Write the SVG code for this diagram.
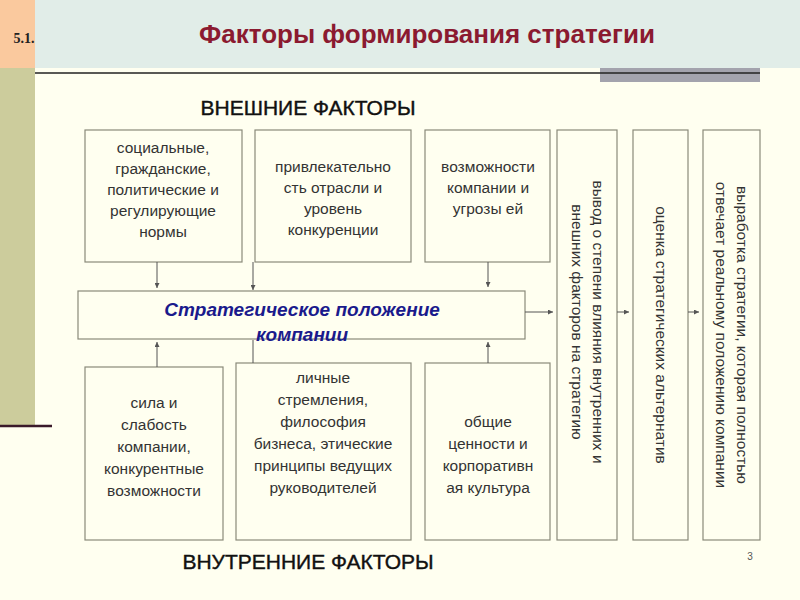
<svg xmlns="http://www.w3.org/2000/svg" width="800" height="600" viewBox="0 0 800 600">
<style>
.bx{fill:none;stroke:#8a8a7a;stroke-width:1.2}
.t{font-family:"Liberation Sans",Arial,sans-serif;font-size:15.5px;fill:#333;text-anchor:middle}
.h{font-family:"Liberation Sans",Arial,sans-serif;font-size:21px;fill:#111;text-anchor:middle;stroke:#111;stroke-width:0.4}
.s{font-family:"Liberation Sans",Arial,sans-serif;font-size:19px;font-style:italic;font-weight:bold;fill:#1a1a8c;text-anchor:middle}
.c line{stroke:#555;stroke-width:1}
</style>
<defs><marker id="a" viewBox="0 0 6 6" refX="6" refY="3" markerWidth="5" markerHeight="5" orient="auto"><path d="M0,0L6,3L0,6z" fill="#555"/></marker></defs>
<rect width="800" height="600" fill="#fffff0"/>
<rect x="35" y="0" width="765" height="68" fill="#e1ede8"/>
<rect x="0" y="0" width="35" height="68" fill="#fac99e"/>
<rect x="0" y="68" width="35" height="357" fill="#cccc9c"/>
<line x1="0" y1="426" x2="52" y2="426" stroke="#3a1a2a" stroke-width="2.5"/>
<rect x="600" y="68" width="160" height="14" fill="#a3a3ad"/>
<line x1="35" y1="73" x2="760" y2="73" stroke="#222" stroke-width="1.5"/>
<text x="24" y="43" style="font-family:'Liberation Serif',serif;font-size:14px;font-weight:bold;fill:#222" text-anchor="middle">5.1.</text>
<text x="427" y="43" style="font-family:'Liberation Sans',Arial,sans-serif;font-size:26px;font-weight:bold;fill:#8b1a30" text-anchor="middle">Факторы формирования стратегии</text>
<text x="308" y="115" class="h">ВНЕШНИЕ ФАКТОРЫ</text>
<text x="308" y="569" class="h">ВНУТРЕННИЕ ФАКТОРЫ</text>
<text x="750" y="560" style="font-family:'Liberation Sans',sans-serif;font-size:10px;fill:#555" text-anchor="middle">3</text>

<g id="n1"><rect class="bx" x="85" y="130" width="157" height="132"/><text class="t"><tspan x="163" y="153">социальные,</tspan><tspan x="163" y="174">гражданские,</tspan><tspan x="163" y="195">политические и</tspan><tspan x="163" y="216">регулирующие</tspan><tspan x="163" y="237">нормы</tspan></text></g>
<g id="n2"><rect class="bx" x="255" y="130" width="156" height="132"/><text class="t"><tspan x="333" y="172">привлекательно</tspan><tspan x="333" y="193">сть отрасли и</tspan><tspan x="333" y="214">уровень</tspan><tspan x="333" y="235">конкуренции</tspan></text></g>
<g id="n3"><rect class="bx" x="425" y="130" width="125" height="132"/><text class="t"><tspan x="488" y="172">возможности</tspan><tspan x="488" y="193">компании и</tspan><tspan x="488" y="214">угрозы ей</tspan></text></g>
<g id="n4"><rect class="bx" x="78" y="291" width="447" height="48"/><text x="302" y="316" class="s">Стратегическое положение</text><text x="302" y="341" class="s">компании</text></g>
<g id="n5"><rect class="bx" x="85" y="367" width="138" height="173"/><text class="t"><tspan x="154" y="408">сила и</tspan><tspan x="154" y="430">слабость</tspan><tspan x="154" y="452">компании,</tspan><tspan x="154" y="474">конкурентные</tspan><tspan x="154" y="496">возможности</tspan></text></g>
<g id="n6"><rect class="bx" x="236" y="363" width="175" height="177"/><text class="t"><tspan x="323" y="383">личные</tspan><tspan x="323" y="405">стремления,</tspan><tspan x="323" y="427">философия</tspan><tspan x="323" y="449">бизнеса, этические</tspan><tspan x="323" y="471">принципы ведущих</tspan><tspan x="323" y="493">руководителей</tspan></text></g>
<g id="n7"><rect class="bx" x="425" y="363" width="125" height="177"/><text class="t"><tspan x="488" y="427">общие</tspan><tspan x="488" y="449">ценности и</tspan><tspan x="488" y="471">корпоративн</tspan><tspan x="488" y="493">ая культура</tspan></text></g>
<g id="n8"><rect class="bx" x="557" y="130" width="60" height="410"/><text class="t" transform="translate(587,322) rotate(90)"><tspan x="0" y="-6">вывод  о степени влияния внутренних и</tspan><tspan x="0" y="15">внешних факторов на стратегию</tspan></text></g>
<g id="n9"><rect class="bx" x="633" y="130" width="55" height="410"/><text class="t" transform="translate(661,335) rotate(90)" y="5">оценка стратегических альтернатив</text></g>
<g id="n10"><rect class="bx" x="703" y="130" width="57" height="410"/><text class="t" transform="translate(731,335) rotate(90)"><tspan x="0" y="-6">выработка стратегии, которая полностью</tspan><tspan x="0" y="15">отвечает реальному положению компании</tspan></text></g>

<g class="c">
<line x1="157" y1="262" x2="157" y2="288" marker-end="url(#a)"/>
<line x1="253" y1="262" x2="253" y2="290" marker-end="url(#a)"/>
<line x1="488" y1="262" x2="488" y2="287" marker-end="url(#a)"/>
<line x1="157" y1="367" x2="157" y2="342" marker-end="url(#a)"/>
<line x1="253" y1="363" x2="253" y2="340"/>
<line x1="488" y1="363" x2="488" y2="342" marker-end="url(#a)"/>
<line x1="525" y1="312" x2="553" y2="312" marker-end="url(#a)"/>
<line x1="617" y1="312" x2="629" y2="312" marker-end="url(#a)"/>
<line x1="688" y1="312" x2="699" y2="312" marker-end="url(#a)"/>
</g>
</svg>
